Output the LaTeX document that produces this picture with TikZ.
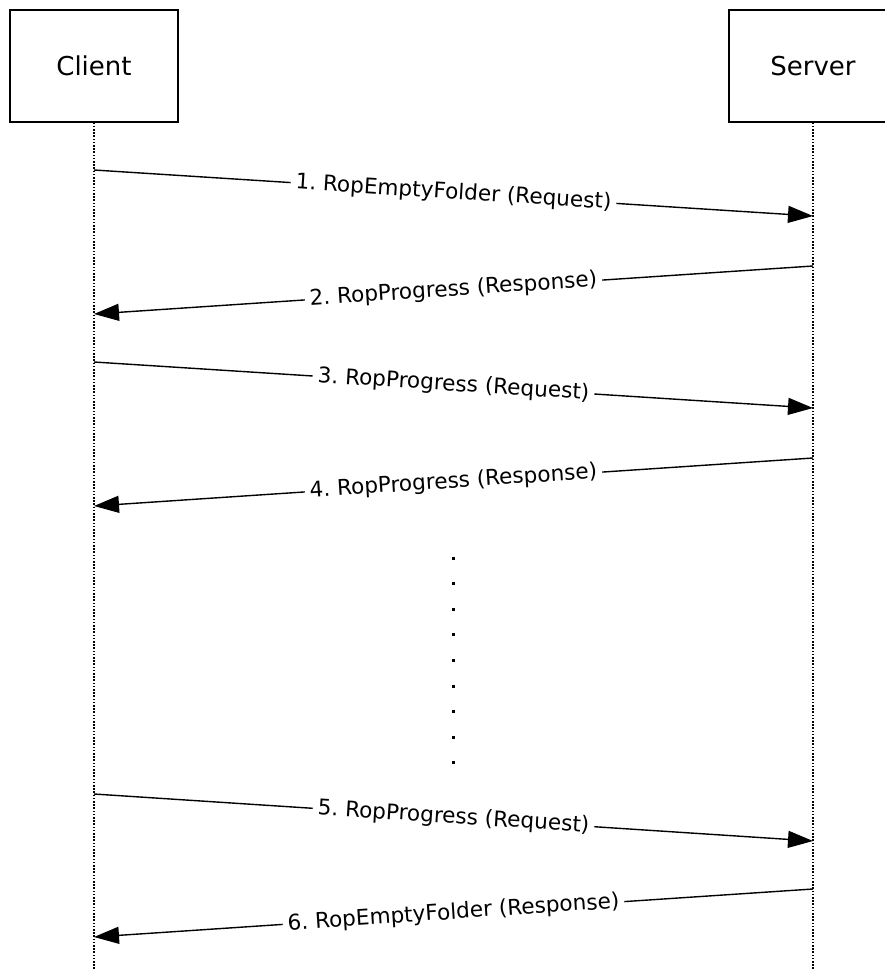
\documentclass[tikz,border=0pt]{standalone}
\usepackage{fontspec}
\setmainfont{DejaVu Sans}
\usetikzlibrary{arrows.meta}
\frenchspacing
\begin{document}
\begin{tikzpicture}[x=1pt,y=-1pt,
  actor/.style={draw,line width=1.3pt,minimum width=168pt,minimum height=112pt,inner sep=0pt,font=\fontsize{26}{31}\selectfont},
  life/.style={line width=1.1pt,dash pattern=on 1.6pt off 1.6pt},
  msg/.style={line width=1.4pt,-{Triangle[length=25pt,width=17pt]}},
  lbl/.style={midway,sloped,fill=white,inner sep=5pt,font=\fontsize{21.6}{25}\selectfont},
  dot/.style={rectangle,fill=black,inner sep=0pt,minimum size=3pt}]
\useasboundingbox (0,0) rectangle (885,969);
\begin{scope}
\clip (0,0) rectangle (885,969);
\node[actor] (client) at (94,66) {Client};
\node[actor] (server) at (813,66) {Server};
\coordinate (cend) at (94,969);
\coordinate (send) at (813,969);
\draw[life] (client.south) -- (cend);
\draw[life] (server.south) -- (send);
\end{scope}
\coordinate (c1) at (94,170); \coordinate (s1) at (813,216);
\coordinate (s2) at (813,266); \coordinate (c2) at (94,314);
\coordinate (c3) at (94,362); \coordinate (s3) at (813,408);
\coordinate (s4) at (813,458); \coordinate (c4) at (94,506);
\coordinate (c5) at (94,794); \coordinate (s5) at (813,841);
\coordinate (s6) at (813,889); \coordinate (c6) at (94,937);
\draw[msg] (c1) -- node[lbl] {1. RopEmptyFolder (Request)} (s1);
\draw[msg] (s2) -- node[lbl] {2. RopProgress (Response)} (c2);
\draw[msg] (c3) -- node[lbl] {3. RopProgress (Request)} (s3);
\draw[msg] (s4) -- node[lbl] {4. RopProgress (Response)} (c4);
\draw[msg] (c5) -- node[lbl] {5. RopProgress (Request)} (s5);
\draw[msg] (s6) -- node[lbl] {6. RopEmptyFolder (Response)} (c6);
\foreach \i in {0,...,8} {
  \node[dot] (d\i) at (453,558+25.6*\i) {};
}
\end{tikzpicture}
\end{document}
